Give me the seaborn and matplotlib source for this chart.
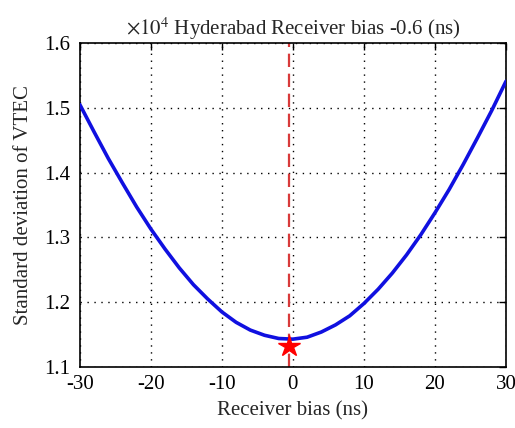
import matplotlib
matplotlib.use("Agg")
import matplotlib.pyplot as plt
import seaborn as sns
import pandas as pd

# Data
bias_ns = [-30, -28, -26, -24, -22, -20, -18, -16, -14, -12, -10, -8, -6, -4, -2,
           0, 2, 4, 6, 8, 10, 12, 14, 16, 18, 20, 22, 24, 26, 28, 30]
std_vtec = [1.505, 1.463, 1.422, 1.384, 1.347, 1.313, 1.282, 1.253, 1.227, 1.205,
            1.185, 1.169, 1.157, 1.149, 1.144, 1.143, 1.146, 1.154, 1.165, 1.179,
            1.198, 1.220, 1.245, 1.273, 1.304, 1.338, 1.374, 1.413, 1.454, 1.496, 1.541]
best_bias = -0.6
marker_y = 1.132
x_ticks = [-30, -20, -10, 0, 10, 20, 30]
y_ticks = [1.1, 1.2, 1.3, 1.4, 1.5, 1.6]

sns.set_style("white")
plt.rcParams['font.family'] = ['Liberation Serif', 'DejaVu Serif']
plt.rcParams['mathtext.fontset'] = 'stix'

df = pd.DataFrame({"bias": bias_ns, "std": std_vtec})

fig = plt.figure(figsize=(5.15, 4.28), dpi=100)
ax = fig.add_axes([0.155, 0.1425, 0.8275, 0.757])

sns.lineplot(data=df, x="bias", y="std", ax=ax, color="#1010e0", linewidth=2.6, zorder=3)
ax.axvline(best_bias, color="#d83a3a", linestyle=(0, (6, 3)), linewidth=1.6, zorder=2)
ax.plot([best_bias], [marker_y], marker="*", color="red", markersize=16, zorder=4,
        linestyle="none")

ax.set_xlim(-30, 30)
ax.set_ylim(1.1, 1.6)
ax.set_xticks(x_ticks)
ax.set_yticks(y_ticks)
ax.set_xticklabels([str(t) for t in x_ticks])
ax.set_yticklabels(["1.1", "1.2", "1.3", "1.4", "1.5", "1.6"])
ax.grid(True, color="black", linestyle=(0, (1, 4)), linewidth=1.0)
ax.tick_params(direction="in", length=5, width=1, top=True, right=True,
               labelsize=15, colors="black")
ax.tick_params(axis="x", pad=6)
ax.tick_params(axis="y", pad=7)
for s in ax.spines.values():
    s.set_color("black")
    s.set_linewidth(1.2)

ax.set_xlabel("Receiver bias (ns)", fontsize=15, labelpad=5)
ax.set_ylabel("Standard deviation of VTEC", fontsize=15, labelpad=8)
ax.set_title(r"$\times10^4$ Hyderabad Receiver bias -0.6 (ns)", fontsize=15, pad=6)

fig.savefig("out.png", dpi=100)
